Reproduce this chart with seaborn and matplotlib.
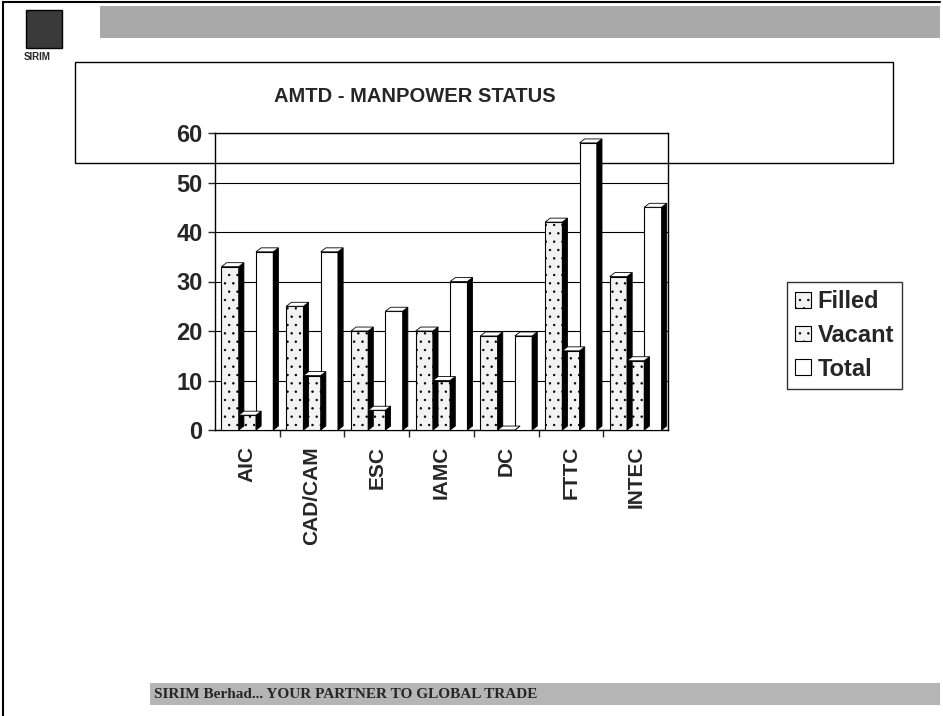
"""AMTD - Manpower status: grouped bar chart with a pseudo-3D look, laid out like the scanned slide."""
import matplotlib
matplotlib.use("Agg")
import matplotlib.pyplot as plt
from matplotlib.patches import Polygon, Rectangle
from matplotlib.lines import Line2D
import pandas as pd
import seaborn as sns

# --- data ---
units = ["AIC", "CAD/CAM", "ESC", "IAMC", "DC", "FTTC", "INTEC"]
filled = [33, 25, 20, 20, 19, 42, 31]
vacant = [3, 11, 4, 10, 0, 16, 14]
total = [36, 36, 24, 30, 19, 58, 45]
series = ["Filled", "Vacant", "Total"]
yticks = [0, 10, 20, 30, 40, 50, 60]

df = pd.DataFrame({
    "unit": units * 3,
    "status": [s for s in series for _ in units],
    "count": filled + vacant + total,
})

sns.set_style("white")
plt.rcParams["font.family"] = ["Liberation Sans", "DejaVu Sans"]
plt.rcParams["hatch.color"] = "#9a9a9a"
plt.rcParams["hatch.linewidth"] = 0.5

W, H = 943, 716
fig = plt.figure(figsize=(W / 100, H / 100), dpi=100)


def px(x0, y0, x1, y1):
    """pixel box (top-left origin) -> figure fraction rect."""
    return [x0 / W, 1 - y1 / H, (x1 - x0) / W, (y1 - y0) / H]


# slide decoration (figure coords)
deco = fig.add_axes([0, 0, 1, 1], zorder=0)
deco.set_xlim(0, W); deco.set_ylim(H, 0); deco.axis("off")
deco.add_patch(Rectangle((100, 6), 840, 32, facecolor="#a9a9a9", edgecolor="none"))
deco.add_patch(Rectangle((26, 10), 36, 38, facecolor="#3a3a3a", edgecolor="black"))
deco.text(24, 57, "SIRIM", fontsize=7, fontweight="bold", va="center", ha="left")
deco.add_patch(Rectangle((75, 62), 818, 101, facecolor="white", edgecolor="black", lw=1.0))
deco.text(415, 96, "AMTD - MANPOWER STATUS", fontsize=14.5, fontweight="bold",
          ha="center", va="center", family=["Liberation Sans Narrow", "Liberation Sans"])
deco.add_patch(Rectangle((150, 683), 790, 22, facecolor="#b5b5b5", edgecolor="none"))
deco.text(154, 694, "SIRIM Berhad... YOUR PARTNER TO GLOBAL TRADE", fontsize=11,
          fontweight="bold", ha="left", va="center",
          family=["Liberation Serif", "DejaVu Serif"])
deco.add_line(Line2D([3, 3], [2, 716], color="black", lw=1.5))
deco.add_line(Line2D([3, 940], [2, 2], color="black", lw=1.5))

# chart
ax = fig.add_axes(px(215, 133, 668, 430), zorder=1)
ax.set_facecolor("none")
sns.barplot(data=df, x="unit", y="count", hue="status", hue_order=series,
            palette=["#f2f2f2", "#f4f4f4", "white"], edgecolor="black",
            linewidth=0.8, width=0.8, ax=ax, zorder=3)

hatches = ["..", "..", ""]
dx, dy = 0.08, 0.8
for cont, hatch in zip(ax.containers, hatches):
    for bar in cont:
        bar.set_hatch(hatch)
        x, w, h = bar.get_x(), bar.get_width(), bar.get_height()
        side = Polygon([(x + w, 0), (x + w + dx, dy), (x + w + dx, h + dy), (x + w, h)],
                       closed=True, facecolor="black", edgecolor="black", lw=0.6, zorder=3)
        top = Polygon([(x, h), (x + dx, h + dy), (x + w + dx, h + dy), (x + w, h)],
                      closed=True, facecolor="white", edgecolor="black", lw=0.6, zorder=3)
        ax.add_patch(side); ax.add_patch(top)

ax.set_ylim(0, 60)
ax.set_xlim(-0.5, len(units) - 0.5)
ax.set_yticks(yticks)
ax.yaxis.grid(True, color="black", lw=0.8)
ax.set_axisbelow(True)
for s in ax.spines.values():
    s.set_color("black"); s.set_linewidth(1.0)
ax.tick_params(axis="y", left=True, length=5, width=1, labelsize=17, pad=4)
ax.tick_params(axis="x", bottom=False, labelsize=15, pad=8)
for lab in ax.get_yticklabels() + ax.get_xticklabels():
    lab.set_fontweight("bold")
for lab in ax.get_xticklabels():
    lab.set_rotation(90)
ax.set_xticks([i + 0.5 for i in range(len(units) - 1)], minor=True)
ax.tick_params(axis="x", which="minor", bottom=True, length=5, width=1)
ax.set_xlabel(""); ax.set_ylabel("")

handles, labels = ax.get_legend_handles_labels()
for h_, hatch in zip(handles, hatches):
    h_.set_hatch(hatch)
ax.legend(handles, labels, loc="upper left",
          bbox_to_anchor=px(787, 282, 907, 397), bbox_transform=fig.transFigure,
          frameon=True, fancybox=False, edgecolor="black",
          prop={"weight": "bold", "size": 17}, handlelength=0.65, handleheight=0.65,
          handletextpad=0.3, labelspacing=0.45, borderpad=0.35, borderaxespad=0)
ax.get_legend().get_frame().set_linewidth(1.0)

fig.savefig("out.png", dpi=100)
